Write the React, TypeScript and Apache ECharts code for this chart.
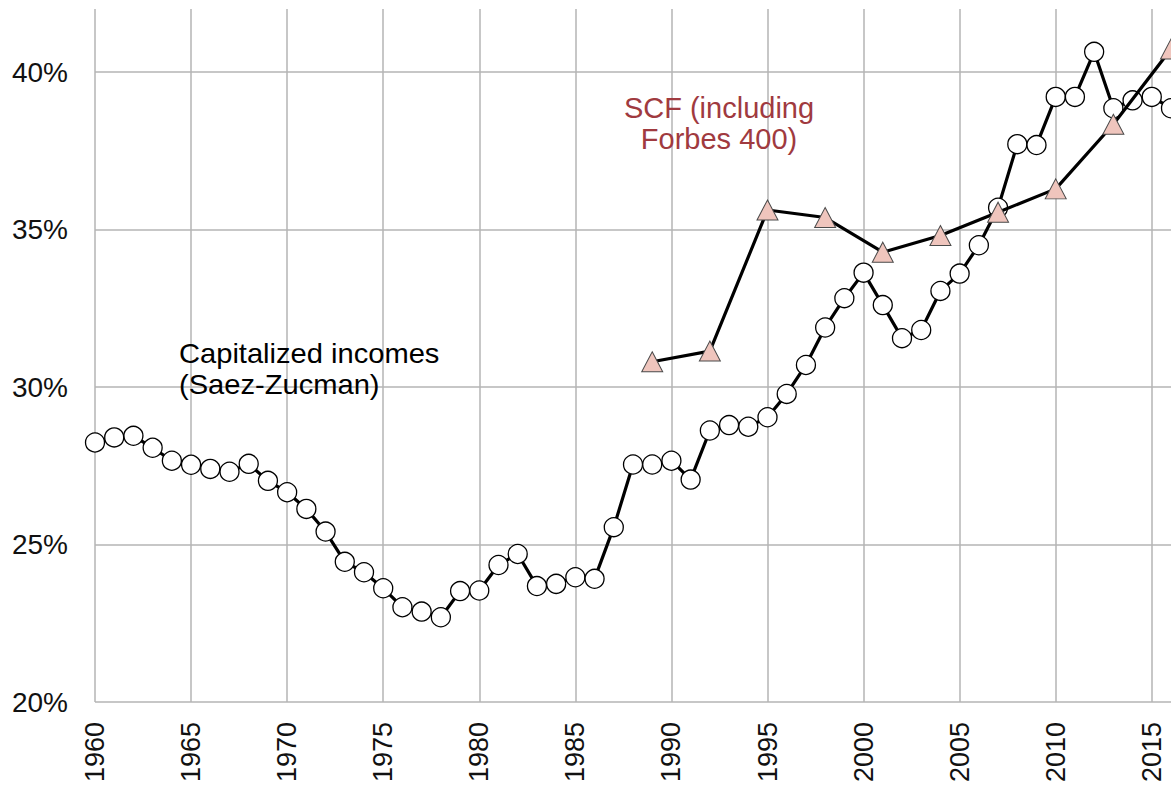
import React, { useEffect, useRef } from "react";
import * as echarts from "echarts";

// Capitalized incomes (Saez-Zucman), top 1% wealth share, %
const capYears = [
  1960, 1961, 1962, 1963, 1964, 1965, 1966, 1967, 1968, 1969,
  1970, 1971, 1972, 1973, 1974, 1975, 1976, 1977, 1978, 1979,
  1980, 1981, 1982, 1983, 1984, 1985, 1986, 1987, 1988, 1989,
  1990, 1991, 1992, 1993, 1994, 1995, 1996, 1997, 1998, 1999,
  2000, 2001, 2002, 2003, 2004, 2005, 2006, 2007, 2008, 2009,
  2010, 2011, 2012, 2013, 2014, 2015, 2016,
];
const capValues = [
  28.24, 28.4, 28.45, 28.07, 27.66, 27.53, 27.4, 27.31, 27.56, 27.02,
  26.66, 26.13, 25.41, 24.45, 24.12, 23.61, 23.01, 22.87, 22.69, 23.52,
  23.54, 24.35, 24.7, 23.68, 23.75, 23.96, 23.91, 25.55, 27.54, 27.54,
  27.66, 27.06, 28.62, 28.79, 28.74, 29.04, 29.78, 30.7, 31.89, 32.82,
  33.63, 32.6, 31.55, 31.81, 33.05, 33.6, 34.5, 35.69, 37.71, 37.68,
  39.21, 39.21, 40.64, 38.85, 39.1, 39.21, 38.85,
];

// SCF (including Forbes 400)
const scfYears = [1989, 1992, 1995, 1998, 2001, 2004, 2007, 2010, 2013, 2016];
const scfValues = [30.8, 31.14, 35.62, 35.38, 34.28, 34.81, 35.55, 36.29, 38.34, 40.73];

const xTickYears = [1960, 1965, 1970, 1975, 1980, 1985, 1990, 1995, 2000, 2005, 2010, 2015];
const yTicks = [20, 25, 30, 35, 40];

const capLabel = "Capitalized incomes\n(Saez-Zucman)";
const scfLabel = "SCF (including\nForbes 400)";

const FONT = "'Liberation Sans', Arial, Helvetica, sans-serif";
const GRID_COLOR = "#b5b5b5";

export default function App() {
  const ref = useRef<HTMLDivElement>(null);

  useEffect(() => {
    if (!ref.current) return;
    const chart = echarts.init(ref.current, null, { renderer: "svg" });

    // grid line colours: visible at regular ticks, hidden at the extent-end extra tick
    const xLineColors = [...xTickYears.map(() => GRID_COLOR), "rgba(0,0,0,0)"];
    const yLineColors = [...yTicks.map(() => GRID_COLOR), "rgba(0,0,0,0)"];

    chart.setOption({
      animation: false,
      backgroundColor: "#ffffff",
      grid: { left: 95, right: 0, top: 9, bottom: 86, containLabel: false },
      xAxis: {
        type: "value",
        min: 1960,
        max: 2016,
        interval: 5,
        axisLine: { show: false },
        axisTick: { show: false },
        splitLine: { show: true, lineStyle: { color: xLineColors, width: 1.5 } },
        axisLabel: {
          rotate: 90,
          margin: 20,
          fontSize: 27,
          fontFamily: FONT,
          color: "#111",
          formatter: (v: number) => (xTickYears.includes(v) ? String(v) : ""),
        },
      },
      yAxis: {
        type: "value",
        min: 20,
        max: 42,
        interval: 5,
        axisLine: { show: false },
        axisTick: { show: false },
        splitLine: { show: true, lineStyle: { color: yLineColors, width: 1.5 } },
        axisLabel: {
          margin: 27,
          fontSize: 28,
          fontFamily: FONT,
          color: "#111",
          padding: [7, 0, 0, 0],
          formatter: (v: number) => (yTicks.includes(v) ? v + "%" : ""),
        },
      },
      series: [
        {
          name: "Capitalized incomes (Saez-Zucman)",
          type: "line",
          data: capYears.map((y, i) => [y, capValues[i]]),
          symbol: "circle",
          symbolSize: 19,
          showAllSymbol: true,
          clip: false,
          lineStyle: { color: "#000", width: 3.2 },
          itemStyle: { color: "#ffffff", borderColor: "#000", borderWidth: 1.3 },
          z: 3,
        },
        {
          name: "SCF (including Forbes 400)",
          type: "line",
          data: scfYears.map((y, i) => [y, scfValues[i]]),
          symbol: "triangle",
          symbolSize: [21, 20],
          showAllSymbol: true,
          clip: false,
          lineStyle: { color: "#000", width: 3.2 },
          itemStyle: { color: "#efc5bd", borderColor: "#4a4a4a", borderWidth: 1 },
          z: 4,
        },
      ],
      graphic: [
        {
          type: "text",
          left: 179,
          top: 338,
          z: 10,
          scaleX: 1.04,
          style: {
            text: capLabel,
            font: `28px ${FONT}`,
            fill: "#000",
            lineHeight: 31,
          },
        },
        {
          type: "text",
          x: 719,
          y: 92,
          z: 10,
          style: {
            text: scfLabel,
            font: `29px ${FONT}`,
            fill: "#a03a3f",
            align: "center",
            verticalAlign: "top",
            lineHeight: 31,
          },
        },
      ],
    });

    return () => chart.dispose();
  }, []);

  return (
    <div
      ref={ref}
      style={{ position: "fixed", left: 0, top: 0, width: 1171, height: 788, background: "#fff" }}
    />
  );
}
